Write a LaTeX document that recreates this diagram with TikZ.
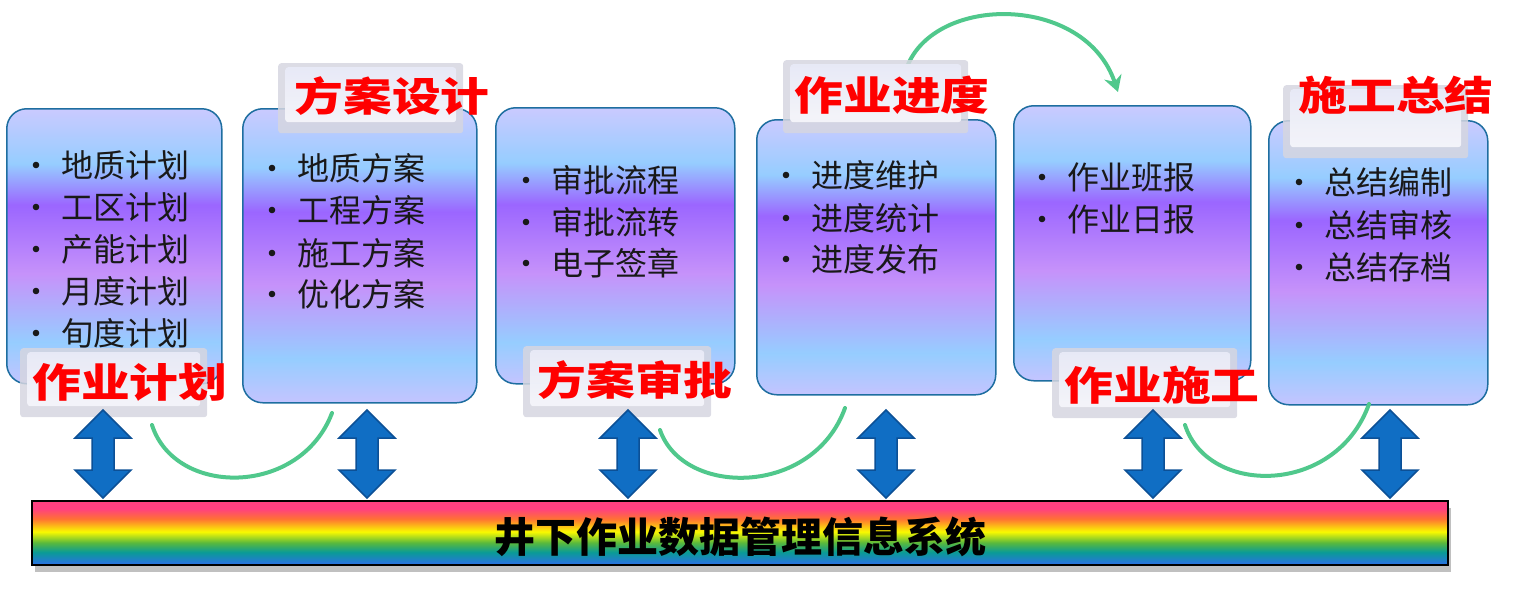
\documentclass[tikz,border=0pt]{standalone}
\usepackage{fontspec}
\setmainfont{Noto Sans CJK SC}
\usetikzlibrary{arrows.meta,shadows}
\definecolor{lavT}{RGB}{202,202,255}
\definecolor{lavB}{RGB}{196,196,255}
\definecolor{lblue}{RGB}{150,205,255}
\definecolor{purp}{RGB}{155,102,255}
\definecolor{viol}{RGB}{198,146,250}
\definecolor{boxline}{RGB}{30,110,160}
\definecolor{arrfill}{RGB}{16,110,196}
\definecolor{arrline}{RGB}{12,80,150}
\definecolor{curvec}{RGB}{80,200,140}
\definecolor{redlab}{RGB}{255,0,0}
\definecolor{panelo}{RGB}{214,214,224}
\definecolor{panelt}{RGB}{234,236,250}
\definecolor{panelb}{RGB}{252,252,255}
\definecolor{bpink}{RGB}{255,64,128}
\definecolor{borange}{RGB}{255,115,50}
\definecolor{byellow}{RGB}{250,250,0}
\definecolor{bgreen}{RGB}{90,185,60}
\definecolor{bteal}{RGB}{10,155,150}
\definecolor{bblue}{RGB}{45,110,232}
\pgfdeclareverticalshading{boxsh}{100bp}{color(0bp)=(lavB); color(25bp)=(lavB); color(32.5bp)=(lblue); color(45bp)=(viol); color(57.5bp)=(purp); color(65bp)=(lblue); color(75bp)=(lavT); color(100bp)=(lavT)}
\pgfdeclareverticalshading{barsh}{100bp}{color(0bp)=(bblue); color(25bp)=(bblue); color(35bp)=(bteal); color(42.5bp)=(bgreen); color(51bp)=(byellow); color(61bp)=(borange); color(69bp)=(bpink); color(75bp)=(bpink); color(100bp)=(bpink)}
\tikzset{
  box/.style={rectangle, rounded corners=20pt, shading=boxsh, draw=boxline, line width=1.5pt, anchor=north west, inner sep=0pt},
  itemtxt/.style={font=\fontsize{32}{38}\selectfont, text=black!90, inner sep=0pt, anchor=west},
  bul/.style={fill=black!90},
  panel/.style={rectangle, rounded corners=3pt, fill=panelo, fill opacity=0.85, anchor=north west, inner sep=0pt,
    path picture={\fill[top color=panelt, bottom color=panelb] ([xshift=7pt,yshift=-4pt]path picture bounding box.north west) rectangle ([xshift=-7pt,yshift=11pt]path picture bounding box.south east);}},
  labtxt/.style={font=\fontsize{40}{40}\selectfont\bfseries, text=redlab, inner sep=0pt},
  dbl/.style={fill=arrfill, draw=arrline, line width=1.5pt, line join=miter},
  curve/.style={draw=curvec, line width=4pt, line cap=round},
  sysbar/.style={rectangle, shading=barsh, draw=black, line width=2pt, anchor=north west, inner sep=0pt,
    drop shadow={shadow xshift=3pt, shadow yshift=-7pt, fill=black!55, opacity=0.45}},
  systxt/.style={font=\fontsize{41}{41}\selectfont\bfseries, text=black, inner sep=0pt}
}
\newcommand\itm[3]{\node[itemtxt] (#1) at (#2) {#3};
  \fill[bul] ([xshift=-25pt]#1.west) circle (3.3pt);}
\newcommand\dblarr[2]{\coordinate (#1) at (#2,410);
  \path[dbl] (#1) -- (#2+28,438) -- (#2+11,438) -- (#2+11,470) -- (#2+28,470) -- (#2,498)
    -- (#2-28,470) -- (#2-11,470) -- (#2-11,438) -- (#2-28,438) -- cycle;}
\begin{document}
\begin{tikzpicture}[x=1pt,y=-1pt]
\useasboundingbox (0,0) rectangle (1527,598);
% boxes
\node[box, minimum width=215pt, minimum height=275pt] (b1) at (6,108) {};
\node[box, minimum width=234pt, minimum height=294pt] (b2) at (242,108) {};
\node[box, minimum width=239pt, minimum height=276pt] (b3) at (495,107) {};
\node[box, minimum width=239pt, minimum height=275pt] (b4) at (756,119) {};
\node[box, minimum width=237pt, minimum height=275pt] (b5) at (1013,105) {};
\node[box, minimum width=219pt, minimum height=284pt] (b6) at (1268,120) {};
% items
\itm{i11}{61,165}{地质计划}
\itm{i12}{61,207}{工区计划}
\itm{i13}{61,249}{产能计划}
\itm{i14}{61,291}{月度计划}
\itm{i15}{61,333}{旬度计划}
\itm{i21}{297,168}{地质方案}
\itm{i22}{297,210}{工程方案}
\itm{i23}{297,253}{施工方案}
\itm{i24}{297,294}{优化方案}
\itm{i31}{551,180}{审批流程}
\itm{i32}{551,222}{审批流转}
\itm{i33}{551,263}{电子签章}
\itm{i41}{811,175}{进度维护}
\itm{i42}{811,218}{进度统计}
\itm{i43}{811,259}{进度发布}
\itm{i51}{1067,177}{作业班报}
\itm{i52}{1067,219}{作业日报}
\itm{i61}{1324,182}{总结编制}
\itm{i62}{1324,225}{总结审核}
\itm{i63}{1324,267}{总结存档}
% curves
\coordinate (c1a) at (152,425); \coordinate (c1b) at (332,413);
\coordinate (c2a) at (660,430); \coordinate (c2b) at (845,408);
\coordinate (c3a) at (1185,425); \coordinate (c3b) at (1369,404);
\coordinate (c4a) at (907,67); \coordinate (c4b) at (1118,92);
\draw[curve] (c1a) .. controls (175,497) and (300,497) .. (c1b);
\draw[curve] (c2a) .. controls (683,497) and (813,497) .. (c2b);
\draw[curve] (c3a) .. controls (1208,496) and (1336,496) .. (c3b);
\draw[curve, -{Stealth[length=16pt,width=18pt]}] (c4a) .. controls (935,-6) and (1085,-6) .. (c4b);
% panels
\node[panel, minimum width=187pt, minimum height=69pt] (p1) at (20,348) {};
\node[panel, minimum width=185pt, minimum height=70pt] (p2) at (278,63) {};
\node[panel, minimum width=188pt, minimum height=71pt] (p3) at (523,346) {};
\node[panel, minimum width=185pt, minimum height=73pt] (p4) at (783,60) {};
\node[panel, minimum width=185pt, minimum height=70pt] (p5) at (1052,348) {};
\node[panel, minimum width=185pt, minimum height=73pt] (p6) at (1283,85) {};
% label texts
\node[labtxt] (t1) at (130,382) {\scalebox{1.22}[1]{作业计划}};
\node[labtxt] (t2) at (392,96) {\scalebox{1.22}[1]{方案设计}};
\node[labtxt] (t3) at (635,380) {\scalebox{1.22}[1]{方案审批}};
\node[labtxt] (t4) at (892,95) {\scalebox{1.22}[1]{作业进度}};
\node[labtxt] (t5) at (1162,385) {\scalebox{1.22}[1]{作业施工}};
\node[labtxt] (t6) at (1396,95) {\scalebox{1.22}[1]{施工总结}};
% double arrows
\dblarr{a1}{103}
\dblarr{a2}{367}
\dblarr{a3}{628}
\dblarr{a4}{886}
\dblarr{a5}{1153}
\dblarr{a6}{1390}
% bar
\node[sysbar, minimum width=1416pt, minimum height=64pt] (sys) at (31,500) {};
\node[systxt] (systext) at (740,537) {井下作业数据管理信息系统};
\end{tikzpicture}
\end{document}
